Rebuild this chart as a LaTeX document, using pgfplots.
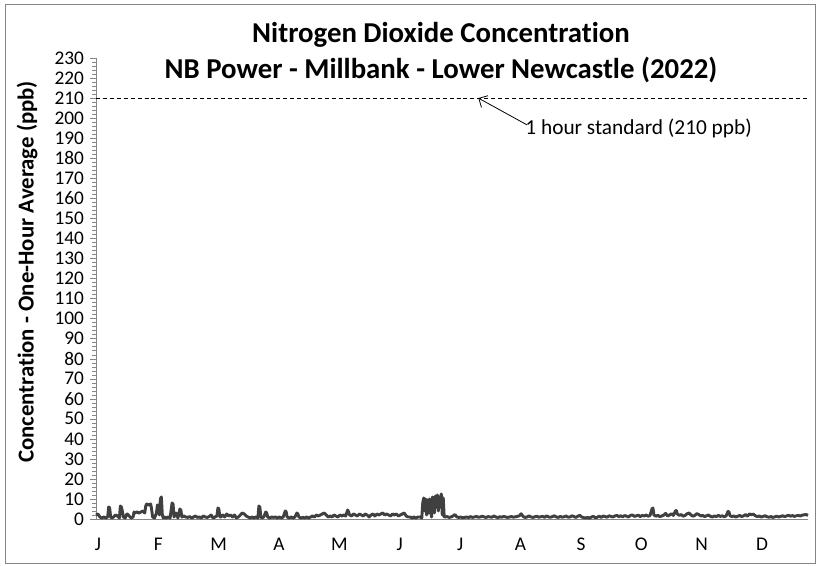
\documentclass[border=0pt]{standalone}
\usepackage{pgfplots}
\pgfplotsset{compat=1.18}
\usepackage{fontspec}
\setmainfont{Carlito}[Ligatures=NoCommon]
\usetikzlibrary{arrows.meta}
\definecolor{dataline}{HTML}{404040}
\definecolor{framegray}{HTML}{868686}

\begin{document}
\begin{tikzpicture}[x=0.75pt,y=0.75pt]
\path[use as bounding box] (0,0) rectangle (820,566);
\draw[framegray, line width=0.75pt] (5,2) rectangle (815,561);
% titles
\node[font=\fontsize{21.6}{25}\bfseries] at (441,531) {Nitrogen Dioxide Concentration};
\node[font=\fontsize{21.6}{25}\bfseries] at (441,496) {NB Power - Millbank - Lower Newcastle (2022)};
\node[rotate=90, font=\fontsize{17.1}{20}\bfseries] at (27,294) {Concentration - One-Hour Average (ppb)};
\begin{axis}[
  at={(72pt,35.25pt)}, anchor=south west,
  scale only axis, width=534pt, height=345.75pt,
  xmin=0, xmax=365, ymin=0, ymax=230,
  axis lines*=left,
  axis line style={framegray},
  ytick={0,10,...,230},
  minor y tick num=4,
  y tick style={framegray},
  tick align=outside,
  major tick length=4.5pt, minor tick length=3pt,
  xtick={1,31.95,62.9,93.85,124.8,155.75,186.7,217.65,248.6,279.55,310.5,341.45},
  xticklabels={J,F,M,A,M,J,J,A,S,O,N,D},
  x tick style={draw=none},
  tick label style={font=\fontsize{14.5}{17}\selectfont},
  /pgf/number format/assume math mode=true,
  yticklabel style={anchor=east, xshift=-1pt},
  xticklabel style={yshift=-6pt},
  clip=false,
]
\addplot[dashed, black, line width=0.75pt, dash pattern=on 3pt off 2.2pt] coordinates {(0,210) (365,210)};
\addplot[dataline, line width=2.2pt, line join=round, mark=none] coordinates {
(0,2)(1,2.5)(2,1)(3,0.5)(4,1)(5,0.5)(6,1)(6.5,6)(7,5.5)(7.5,1)(8,0.5)(9,1)(10,2)(11,1.5)(12,0.5)(12.5,6.5)(13,6)(13.5,4)(14,1)(15,0.5)(15.5,2)(16,2.5)(17,1.5)(18,0.5)(19,1)(19.5,3.5)(20,3)(21,3.5)(22,3)(23,3.5)(24,4)(25,3)(25.5,6.5)(26,7.5)(27,7)(28,7.5)(28.5,5)(29,1)(30,0.5)(31,3)(31.5,7)(32,6.5)(32.5,2)(33,10)(33.5,11)(34,2)(34.5,0.5)(35,1)(36,0.5)(37,1)(38,0.5)(39,8)(39.5,7.5)(40,1)(41,3)(41.5,2)(42,0.5)(43,5)(43.5,4.5)(44,1)(45,1.5)
(46,1)(47,0.8)(48,1.2)(49,0.5)(50,1)(51,1.5)(52,0.8)(53,1)(54,0.5)(55,1.5)(56,1)(57,0.8)(58,1.2)(59,2)(60,0.5)(61,1)(62,1.5)(62.5,5.5)(63,5)(63.5,1)(64,1)(65,2)(66,1)(67,2.5)(68,1.5)(69,2)(70,1)(71,2)(72,0.5)(73,1)(74,2)(75,3)(76,2.5)(77,1.5)(78,1)(79,0.5)(80,1)(81,0.5)(82,1)(83,0.5)(83.5,6.5)(84,6)(84.5,1)(85,0.5)(86,1)(87,3.5)(87.5,3)(88,1)(89,0.5)(90,1)(91,0.8)(92,1)(93,0.5)(94,1)(95,0.5)(96,1)(97,4)(97.5,3.5)(98,1)(99,0.5)(100,1)(101,0.5)(102,1)(103,3)(103.5,2.5)(104,1)(105,0.5)(106,0.8)(107,0.5)(108,1)(109,0.5)(110,1)
(111,1.5)(112,1)(113,2)(114,1.5)(115,2)(116,2.5)(117,3)(118,2)(119,1)(120,1.5)(121,1)(122,2)(123,1.5)(124,1)(125,2)(126,1.5)(127,2)(128,1.5)(129,4.5)(129.5,3.5)(130,2)(131,1.5)(132,2.5)(133,2)(134,1.5)(135,2.5)(136,2)(137,1.5)(138,2.5)(139,2)(140,1)(141,2)(142,2.5)(143,1.5)(144,2.5)(145,2)(146,2.5)(147,3)(148,2)(149,2.5)(150,2)(151,1.5)(152,2.5)(153,2)(154,2.5)(155,1.5)(156,2)(157,2.5)(158,3)(159,1.5)(160,1)(161,1)(162,0.5)(163,1)(164,0.5)(165,1)(166,1)
(167,0.5)(167.5,8)(168,10.5)(168.5,4)(169,10)(169.5,2)(170,9.5)(170.5,3)(171,10)(171.5,5)(172,1)(172.5,11)(173,10)(173.5,3)(174,11.5)(174.5,6)(175,12)(175.5,4)(176,11)(176.5,10)(177,12.5)(177.5,2)(178,10.5)(178.5,1)(179,1)
(180,1.2)(181,0.8)(182,1)(183,1.5)(184,2.2)(185,1)(186,0.8)(187,1)(188,0.6)(189,0.8)(190,1)(191,0.7)(192,1.2)(193,0.8)(194,1)(195,1.3)(196,0.9)(197,1)(198,1.4)(199,1)(200,0.8)(201,1.2)(202,1)(203,0.9)(204,1.5)(205,1)(206,0.7)(207,1.1)(208,0.9)(209,1.3)(210,1)(211,0.8)(212,1)(213,1.2)(214,0.9)(215,1.1)(216,1.3)(217,1.6)(218,2.6)(219,1.2)(220,0.8)(221,1)(222,1.6)(223,1)(224,0.8)(225,1.1)(226,1.4)(227,0.9)(228,1.1)(229,1.3)(230,0.8)(231,1.6)(232,1)(233,0.9)(234,1.2)(235,1.6)(236,1)(237,0.8)(238,1.3)(239,0.9)(240,1.1)(241,1.5)(242,0.9)(243,1)(244,1.6)(245,1.2)(246,0.8)(247,1.4)(248,1.8)(249,1)(250,0.7)(251,0.5)(252,0.8)(253,0.4)(254,1)(255,1.3)(256,0.6)(257,0.9)(258,1.4)(259,0.8)(260,1.5)
(261,1.2)(262,0.9)(263,1.6)(264,1.3)(265,1)(266,1.5)(267,1.8)(268,1.2)(269,1.6)(270,1.1)(271,1.7)(272,1.4)(273,1)(274,1.8)(275,2)(276,1.3)(277,1.6)(278,1.9)(279,1.2)(280,1.8)(281,1.5)(282,2)(283,1.4)(284,1.7)(285,5)(285.5,5.5)(286,2)(287,1.4)(288,1.8)(289,1.2)(290,1.5)(291,1.9)(292,2.8)(293,1.5)(294,2)(295,2.6)(296,1.8)(297,4)(297.5,4.2)(298,2.5)(299,1.8)(300,2.2)(301,1.4)(302,1.8)(303,2.6)(304,3)(305,2)(306,1.4)(307,1.8)(308,2.7)(309,2.2)(310,1.5)(311,1.8)(312,1.2)(313,1.6)(314,2)(315,1.3)(316,1)(317,1.5)(318,1.2)(319,1.8)(320,1.3)(321,1.6)(322,1.1)(323,1.5)(324,3.8)(324.5,3.5)(325,1.6)(326,1.2)(327,1.5)(328,1)(329,1.4)(330,1.8)
(331,1.2)(332,1.6)(333,2.2)(334,1.4)(335,2.5)(336,2.2)(337,2.4)(338,1.6)(339,1.2)(340,1.5)(341,1)(342,1.3)(343,1.6)(344,1.1)(345,0.9)(346,1.2)(347,0.8)(348,1.1)(349,1.4)(350,1)(351,1.3)(352,1.6)(353,1.2)(354,1.5)(355,1.9)(356,1.4)(357,1.7)(358,1.3)(359,1.6)(360,1.8)(361,1.5)(362,1.9)(363,2.1)(364,2.2)(365,1.8)
};
\draw[-{Straight Barb[length=5pt]}, black, line width=0.6pt] (axis cs:221,196.6) -- (axis cs:196,210);
\node[anchor=west, inner sep=0pt, font=\fontsize{16}{19}\selectfont] at (axis cs:220,195) {1 hour standard (210 ppb)};
\end{axis}
\end{tikzpicture}
\end{document}
